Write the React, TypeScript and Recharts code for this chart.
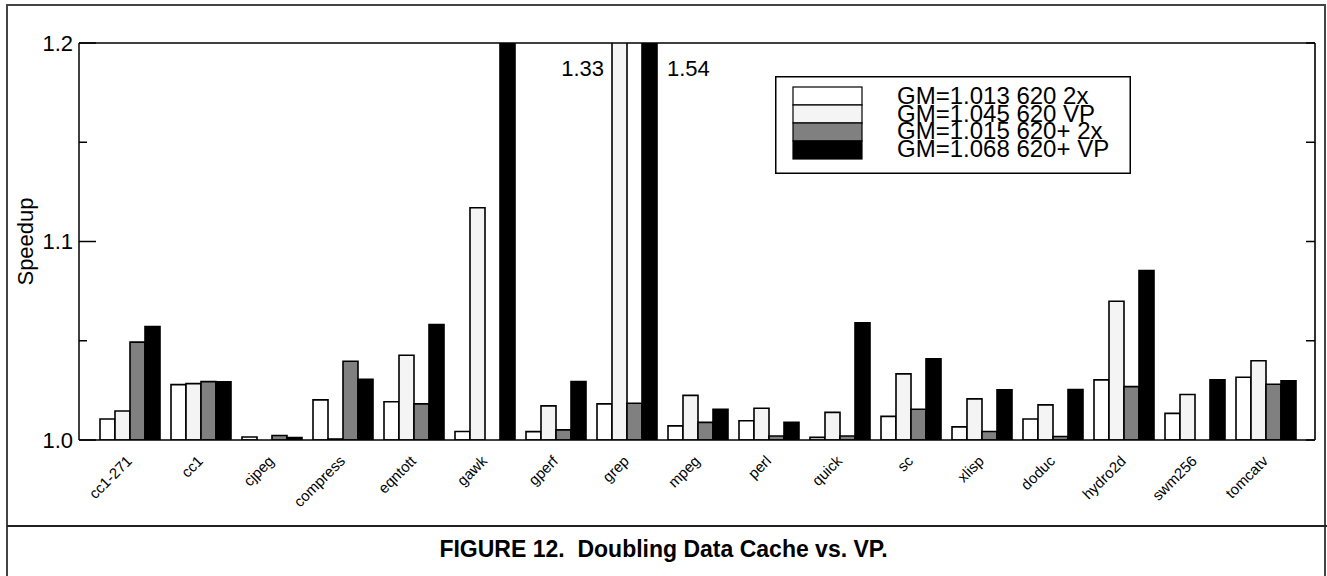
import React from 'react';
import { BarChart, Bar, XAxis, YAxis, Legend, LabelList } from 'recharts';

const categories = ['cc1-271', 'cc1', 'cjpeg', 'compress', 'eqntott', 'gawk', 'gperf', 'grep', 'mpeg', 'perl', 'quick', 'sc', 'xlisp', 'doduc', 'hydro2d', 'swm256', 'tomcatv'];
const s620x2 = [1.0106, 1.0279, 1.0015, 1.0202, 1.0193, 1.0043, 1.0042, 1.0182, 1.0071, 1.0097, 1.0013, 1.0119, 1.0066, 1.0106, 1.0303, 1.0134, 1.0316];
const s620vp = [1.0146, 1.0284, 1.0, 1.0005, 1.0427, 1.117, 1.0172, 1.33, 1.0225, 1.016, 1.0139, 1.0333, 1.0207, 1.0177, 1.0699, 1.0229, 1.0399];
const s620px2 = [1.0493, 1.0294, 1.0023, 1.0397, 1.0182, 1.0, 1.0051, 1.0185, 1.0089, 1.002, 1.002, 1.0155, 1.0043, 1.0018, 1.0269, 1.0, 1.0281];
const s620pvp = [1.0572, 1.0293, 1.0012, 1.0306, 1.0581, 1.2, 1.0294, 1.54, 1.0155, 1.0089, 1.0591, 1.0409, 1.0253, 1.0254, 1.0854, 1.0303, 1.0298];

const seriesNames = ['GM=1.013 620 2x', 'GM=1.045 620 VP', 'GM=1.015 620+ 2x', 'GM=1.068 620+ VP'];
const seriesColors = ['#ffffff', '#f4f4f4', '#808080', '#000000'];
const yTicks = [1.0, 1.05, 1.1, 1.15, 1.2];
const Y_MIN = 1.0;
const Y_MAX = 1.2;

const FONT = '"Liberation Sans", Arial, Helvetica, sans-serif';

const data = categories.map((name, i) => ({
  name,
  a: s620x2[i],
  b: s620vp[i],
  c: s620px2[i],
  d: s620pvp[i],
}));

// left axis: label outside, tick drawn inward
const LeftTick = (props: any) => {
  const { x, y, payload } = props;
  const major = Math.round(payload.value * 100) % 10 === 0;
  const ax = x + 6;
  return (
    <g>
      <line x1={ax} y1={y} x2={ax + (major ? 17 : 8)} y2={y} stroke="#000" strokeWidth={1.5} />
      {major && (
        <text x={x} y={y} dy="0.36em" textAnchor="end" fontSize={22} fontFamily={FONT} fill="#000">
          {payload.value.toFixed(1)}
        </text>
      )}
    </g>
  );
};

const RightTick = (props: any) => {
  const { x, y } = props;
  return <line x1={x - 9} y1={y} x2={x} y2={y} stroke="#000" strokeWidth={1.5} />;
};

const XTick = (props: any) => {
  const { x, y, payload } = props;
  const ax = x + 4;
  const ay = y + 22;
  return (
    <text x={ax} y={ay} transform={`rotate(-45, ${ax}, ${ay})`} textAnchor="end" fontSize={15} fontFamily={FONT} fill="#000">
      {payload.value}
    </text>
  );
};

// value label for bars that run past the top of the plot
const overflowLabel = (side: 'left' | 'right') => (props: any) => {
  const vb = props.viewBox ?? props;
  const value = Number(props.value);
  if (!(value > Y_MAX)) return null;
  const { x, y, width, height } = vb;
  const bottom = y + height;
  const plotTop = bottom - height * ((Y_MAX - Y_MIN) / (value - Y_MIN));
  const tx = side === 'left' ? x - 8 : x + width + 10;
  return (
    <text x={tx} y={plotTop + 33} textAnchor={side === 'left' ? 'end' : 'start'} fontSize={22} fontFamily={FONT} fill="#000">
      {value.toFixed(2)}
    </text>
  );
};

const LegendBox = () => (
  <svg width={356} height={98} style={{ display: 'block' }}>
    <rect x={0.75} y={0.75} width={354.5} height={96.5} fill="#fff" stroke="#000" strokeWidth={1.5} />
    {seriesNames.map((n, i) => (
      <g key={n}>
        <rect x={18} y={11 + i * 18} width={69} height={18} fill={seriesColors[i]} stroke="#000" strokeWidth={1.2} />
        <text x={122} y={28 + i * 17.7} fontSize={24} fontFamily={FONT} fill="#000">
          {n}
        </text>
      </g>
    ))}
  </svg>
);

const SpeedupLabel = (props: any) => {
  const vb = props.viewBox;
  const cx = vb.x - 53;
  const cy = vb.y + vb.height / 2;
  return (
    <text x={cx} y={cy} dy="0.36em" textAnchor="middle" transform={`rotate(-90, ${cx}, ${cy})`} fontSize={22} fontFamily={FONT} fill="#000">
      Speedup
    </text>
  );
};

export default function App() {
  return (
    <div style={{ position: 'absolute', left: 0, top: 0, width: 1327, height: 576, background: '#fff', overflow: 'hidden' }}>
      <div style={{ position: 'absolute', left: 6, top: 4, width: 1320, height: 600, border: '2px solid #444', boxSizing: 'border-box' }} />
      <div style={{ position: 'absolute', left: 7, top: 525, width: 1320, borderTop: '2px solid #222' }} />
      <div
        style={{
          position: 'absolute',
          left: 0,
          top: 538,
          width: 1327,
          textAlign: 'center',
          fontFamily: FONT,
          fontWeight: 'bold',
          fontSize: 23,
          lineHeight: '23px',
          whiteSpace: 'pre',
        }}
      >
        {'FIGURE 12.  Doubling Data Cache vs. VP.'}
      </div>
      <div style={{ position: 'absolute', left: 0, top: 0 }}>
        <BarChart
          width={1327}
          height={576}
          data={data}
          margin={{ top: 42, right: 11, bottom: 135, left: 78 }}
          barCategoryGap={6.5}
          barGap={0}
        >
          <XAxis
            dataKey="name"
            height={1}
            interval={0}
            padding={{ left: 14.5, right: 14.5 }}
            tickLine={false}
            tickSize={0}
            tickMargin={0}
            axisLine={{ stroke: '#000', strokeWidth: 1.5 }}
            tick={<XTick />}
          />
          <XAxis
            xAxisId="top"
            dataKey="name"
            orientation="top"
            height={1}
            padding={{ left: 14.5, right: 14.5 }}
            tick={false}
            tickLine={false}
            axisLine={{ stroke: '#000', strokeWidth: 1.5 }}
          />
          <YAxis
            width={1}
            domain={[Y_MIN, Y_MAX]}
            ticks={yTicks}
            allowDataOverflow
            interval={0}
            tickLine={false}
            tickSize={0}
            tickMargin={6}
            axisLine={{ stroke: '#000', strokeWidth: 1.5 }}
            tick={<LeftTick />}
            label={<SpeedupLabel />}
          />
          <YAxis
            yAxisId="right"
            orientation="right"
            width={1}
            domain={[Y_MIN, Y_MAX]}
            ticks={yTicks}
            allowDataOverflow
            interval={0}
            tickLine={false}
            tickSize={0}
            tickMargin={0}
            axisLine={{ stroke: '#333', strokeWidth: 2 }}
            tick={<RightTick />}
          />
          <Legend
            layout="horizontal"
            verticalAlign="middle"
            align="center"
            wrapperStyle={{ left: 775, top: 76, width: 356, height: 98 }}
            content={<LegendBox />}
          />
          <Bar dataKey="a" name={seriesNames[0]} fill={seriesColors[0]} stroke="#000" strokeWidth={1.6} isAnimationActive={false} />
          <Bar dataKey="b" name={seriesNames[1]} fill={seriesColors[1]} stroke="#000" strokeWidth={1.6} isAnimationActive={false}>
            <LabelList dataKey="b" content={overflowLabel('left')} />
          </Bar>
          <Bar dataKey="c" name={seriesNames[2]} fill={seriesColors[2]} stroke="#000" strokeWidth={1.6} isAnimationActive={false} />
          <Bar dataKey="d" name={seriesNames[3]} fill={seriesColors[3]} stroke="#000" strokeWidth={1.6} isAnimationActive={false}>
            <LabelList dataKey="d" content={overflowLabel('right')} />
          </Bar>
        </BarChart>
      </div>
    </div>
  );
}
